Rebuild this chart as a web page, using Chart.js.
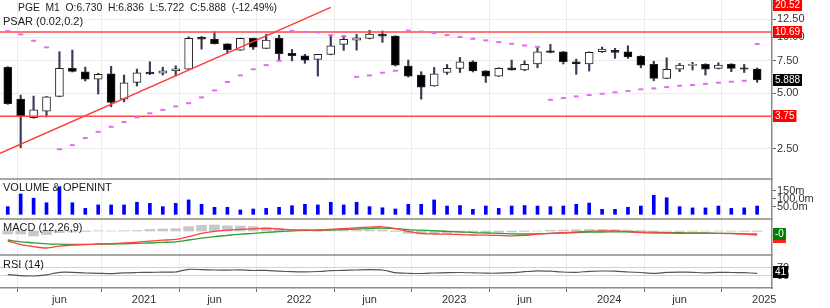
<!DOCTYPE html>
<html>
<head>
<meta charset="utf-8">
<script src="https://cdn.jsdelivr.net/npm/chart.js@4.4.1/dist/chart.umd.min.js"></script>
<style>
  html, body { margin: 0; padding: 0; background: #fff; }
</style>
</head>
<body>
<canvas id="chart" width="830" height="308"></canvas>
<script>
// monthly bars, Feb 2020 .. Dec 2024
const months = [
  '2020-02','2020-03','2020-04','2020-05','2020-06','2020-07','2020-08','2020-09','2020-10','2020-11','2020-12',
  '2021-01','2021-02','2021-03','2021-04','2021-05','2021-06','2021-07','2021-08','2021-09','2021-10','2021-11','2021-12',
  '2022-01','2022-02','2022-03','2022-04','2022-05','2022-06','2022-07','2022-08','2022-09','2022-10','2022-11','2022-12',
  '2023-01','2023-02','2023-03','2023-04','2023-05','2023-06','2023-07','2023-08','2023-09','2023-10','2023-11','2023-12',
  '2024-01','2024-02','2024-03','2024-04','2024-05','2024-06','2024-07','2024-08','2024-09','2024-10','2024-11','2024-12'
];

const opens = [6.88,4.64,3.68,4.00,4.80,6.80,6.52,5.95,6.36,4.64,5.71,
  6.49,6.41,6.59,6.74,9.99,9.78,9.23,8.53,9.87,8.72,9.87,8.19,
  7.95,7.60,8.09,9.16,9.66,9.87,10.41,10.16,7.00,6.26,5.46,6.46,
  6.80,7.38,6.59,6.18,6.85,6.66,7.18,8.46,8.36,7.38,7.18,8.36,
  8.50,8.36,7.91,7.14,6.00,6.74,7.05,7.14,6.80,7.18,6.85,6.730];
const highs = [6.95,4.88,4.82,4.80,8.36,8.53,6.90,6.40,6.97,6.26,6.74,
  7.38,6.90,7.02,10.07,10.10,10.71,9.25,9.90,9.90,10.37,10.27,8.60,
  8.09,8.10,10.16,10.16,10.37,10.90,10.82,10.20,7.54,6.52,6.88,7.14,
  7.79,7.47,6.60,6.85,7.54,7.47,8.89,9.16,8.40,7.63,8.35,8.86,
  8.72,9.00,7.95,7.43,7.75,7.24,7.33,7.20,7.29,7.20,7.14,6.836];
const lows = [4.35,2.54,3.66,3.72,4.78,6.50,5.81,4.94,4.22,4.49,5.46,
  6.30,6.26,6.20,6.70,8.64,9.20,8.19,8.50,8.60,8.70,7.54,7.47,
  7.24,6.18,8.05,8.50,8.53,9.80,9.39,7.00,6.10,4.64,5.45,6.31,
  6.46,6.50,5.71,6.15,6.65,6.60,6.85,8.25,7.18,6.31,6.58,8.30,
  7.70,7.70,6.85,5.83,5.98,6.52,6.66,6.26,6.75,6.52,6.46,5.722];
const closes = [4.38,3.77,4.06,4.78,6.80,6.55,5.95,6.31,4.46,5.69,6.44,
  6.34,6.59,6.77,9.87,9.78,9.23,8.57,9.87,8.86,9.66,8.15,7.95,
  7.54,8.09,9.00,9.75,9.94,10.41,10.16,7.08,6.18,5.39,6.36,6.80,
  7.38,6.58,6.18,6.80,6.68,7.14,8.36,8.30,7.38,7.18,8.30,8.64,
  8.30,7.85,7.08,6.00,6.71,7.08,7.14,6.74,7.08,6.80,6.73,5.888];

const psar = [10.81,10.37,9.58,8.83,
  2.49,2.62,2.86,3.09,3.29,3.49,3.70,3.89,4.06,4.24,4.41,4.74,5.17,5.74,6.23,6.72,7.08,7.47,
  10.81,10.71,10.63,10.28,10.16,
  6.12,6.23,6.44,6.60,
  10.87,10.74,10.54,10.28,10.03,9.82,9.63,9.42,9.23,9.04,8.89,
  4.60,4.70,4.80,4.88,4.96,5.05,5.13,5.24,5.30,5.39,5.48,5.53,5.61,5.69,5.76,5.83,
  9.20];

// volume in millions
const volume = [49,130,103,74,177,74,38,60,60,60,77,70,49,70,92,64,45,45,28,34,
  38,45,55,64,60,77,60,77,49,42,34,64,64,92,53,56,32,53,38,53,
  56,53,49,53,64,72,32,32,45,53,122,106,49,41,41,53,38,41,53];

const macdLine = [-0.25,-0.34,-0.39,-0.425,-0.38,-0.35,-0.34,-0.325,-0.315,-0.30,
  -0.28,-0.255,-0.23,-0.21,-0.14,-0.06,-0.01,0.02,0.04,0.055,
  0.065,0.05,0.03,0.025,0.025,0.04,0.06,0.08,0.095,0.105,
  0.06,-0.01,-0.06,-0.075,-0.08,-0.09,-0.10,-0.105,-0.11,-0.12,
  -0.11,-0.08,-0.06,-0.04,-0.025,-0.01,0,0.005,-0.015,-0.04,
  -0.05,-0.05,-0.06,-0.06,-0.06,-0.06,-0.065,-0.08,-0.10];
const signalLine = [-0.225,-0.27,-0.295,-0.32,-0.33,-0.335,-0.335,-0.33,-0.325,-0.32,
  -0.31,-0.30,-0.285,-0.27,-0.225,-0.18,-0.14,-0.11,-0.08,-0.06,
  -0.035,-0.015,0.005,0.015,0.02,0.025,0.035,0.05,0.06,0.07,
  0.06,0.035,0.02,0.01,-0.01,-0.02,-0.04,-0.05,-0.06,-0.07,
  -0.075,-0.07,-0.06,-0.05,-0.04,-0.03,-0.025,-0.02,-0.02,-0.03,
  -0.03,-0.04,-0.04,-0.05,-0.05,-0.06,-0.06,-0.07,-0.075];
const macdHist = [-0.075,-0.075,-0.125,-0.09,-0.04,-0.025,-0.012,0.005,0,0.008,
  0.012,0.04,0.05,0.058,0.11,0.14,0.15,0.13,0.125,0.11,
  0.09,0.06,0.025,0.008,-0.008,0,0.008,0.012,0.025,0.025,
  -0.012,-0.06,-0.075,-0.068,-0.06,-0.05,-0.042,-0.038,-0.032,-0.025,
  -0.012,0,0.018,0.025,0.032,0.038,0.038,0.032,0.025,0.012,
  0,-0.008,-0.008,-0.005,0,0,-0.005,-0.008,-0.012];

const rsi = [34.5,29.5,27.5,33.5,45.5,46,42.5,41,39,43.5,
  45,46,46.5,47.5,61,59.5,57.5,56.5,58.5,55,
  56,51.5,49,48.5,50,54,56,57.5,59,57.5,
  44,41,40,42.5,44,45,43.5,41.5,41.5,44,
  49,53.5,51.5,47.5,46,51,52.5,51.5,47.5,45,
  41,45.5,46.5,46,43.5,46,45,44,41];

// drawn lines on the price panel
const levels = [10.69, 3.75];
const offLevel = 20.52;              // level above the visible range, shown as a box only
const trendLine = [[-0.6, 2.37], [25, 14.5]];

// axis ticks
const xTickPos = [4, 10.55, 16, 22.55, 28, 34.55, 40, 46.55, 52, 58.55];
const xTickLabels = ['jun', '2021', 'jun', '2022', 'jun', '2023', 'jun', '2024', 'jun', '2025'];
const priceTicks = [2.5, 5, 7.5, 10, 12.5];
const volTicks = [50, 100, 150];
const volTickLabels = ['50.0m', '100.0m', '150m'];
const rsiTicks = [30, 70];

const header = 'PGE  M1  O:6.730  H:6.836  L:5.722  C:5.888  (-12.49%)';

const xMin = -0.6, xMax = 59.15;
const FONT = '"Liberation Sans", Arial, sans-serif';
Chart.defaults.font.family = FONT;
Chart.defaults.font.size = 11;
Chart.defaults.color = '#333';

function valueBox(ctx, x, y, text, bg) {
    ctx.font = '10px ' + FONT;
    const w = ctx.measureText(text).width + 4;
    ctx.fillStyle = bg;
    ctx.fillRect(x, Math.round(y) - 6, w, 12);
    ctx.fillStyle = '#fff';
    ctx.textAlign = 'left';
    ctx.textBaseline = 'middle';
    ctx.fillText(text, x + 2, Math.round(y) + 0.5);
}

// panel separators, panel titles and value boxes on the right axis
const panelDecor = {
    id: 'panelDecor',
    afterDraw(chart) {
        const ctx = chart.ctx;
        const area = chart.chartArea;
        const s = chart.scales;
        ctx.save();

        ctx.strokeStyle = '#8a8a8a';
        ctx.lineWidth = 1.5;
        [s.yVol.top, s.yMacd.top, s.yRsi.top].forEach(y => {
            ctx.beginPath();
            ctx.moveTo(area.left, y);
            ctx.lineTo(area.right, y);
            ctx.stroke();
        });

        ctx.fillStyle = '#1a1a1a';
        ctx.textAlign = 'left';
        ctx.textBaseline = 'middle';
        // header squeezed to the width it has in the original
        ctx.font = '10.5px ' + FONT;
        const hw = ctx.measureText(header).width;
        ctx.save();
        ctx.translate(18, 8);
        ctx.scale(Math.min(1, 259 / hw), 1);
        ctx.fillText(header, 0, 0);
        ctx.restore();
        ctx.font = '11px ' + FONT;
        ctx.fillText('PSAR (0.02,0.2)', 3, 22);
        ctx.fillText('VOLUME & OPENINT', 3, s.yVol.top + 9);
        ctx.fillText('MACD (12,26,9)', 3, s.yMacd.top + 9);
        ctx.fillText('RSI (14)', 3, s.yRsi.top + 10);

        const bx = area.right + 1;
        const last = months.length - 1;
        valueBox(ctx, bx, Math.max(s.y.getPixelForValue(offLevel), s.y.top + 5), offLevel.toFixed(2), '#ff0000');
        levels.forEach(v => valueBox(ctx, bx, s.y.getPixelForValue(v), v.toFixed(2), '#ff0000'));
        valueBox(ctx, bx, s.y.getPixelForValue(closes[last]), closes[last].toFixed(3), '#000000');
        valueBox(ctx, bx, s.yMacd.getPixelForValue(macdLine[last]) + 2, '-0', '#ff2020');
        valueBox(ctx, bx, s.yMacd.getPixelForValue(signalLine[last]), '-0', '#008000');
        valueBox(ctx, bx, s.yRsi.getPixelForValue(rsi[last]) - 1, String(rsi[last]), '#000000');

        ctx.restore();
    }
};

const rightAxis = {
    position: 'right',
    stack: 'panels',
    bounds: 'data',
    border: { color: '#8a8a8a', width: 1.5 },
    afterFit: s => { s.width = 58; s.paddingTop = 0; s.paddingBottom = 0; }
};

new Chart(document.getElementById('chart').getContext('2d'), {
    type: 'line',
    data: {
        datasets: [
            {
                type: 'line', label: 'PSAR', yAxisID: 'y', order: 0,
                data: psar.map((v, i) => ({ x: i, y: v })),
                showLine: false, pointStyle: 'line', pointRadius: 2.5,
                pointBorderWidth: 2, pointBorderColor: '#e46cf4', pointBackgroundColor: '#e46cf4'
            },
            {
                type: 'line', label: 'trend', yAxisID: 'y', order: 1,
                data: trendLine.map(p => ({ x: p[0], y: p[1] })),
                borderColor: '#ff3c3c', borderWidth: 1.5, pointRadius: 0
            },
            ...levels.map(v => ({
                type: 'line', label: 'level ' + v, yAxisID: 'y', order: 1,
                data: [{ x: xMin, y: v }, { x: xMax, y: v }],
                borderColor: '#ff4848', borderWidth: 1.5, pointRadius: 0
            })),
            {
                type: 'bar', label: 'wicks', yAxisID: 'y', order: 9, grouped: false,
                data: months.map((m, i) => ({ x: i, y: [lows[i], highs[i]] })),
                barThickness: 1.5, backgroundColor: '#3a3a5c'
            },
            {
                type: 'bar', label: 'bodies', yAxisID: 'y', order: 8, grouped: false,
                data: months.map((m, i) => ({ x: i, y: [opens[i], closes[i]] })),
                barThickness: 8,
                backgroundColor: closes.map((c, i) => c < opens[i] ? '#000000' : '#ffffff'),
                borderColor: '#222', borderWidth: 1, borderSkipped: false
            },
            {
                type: 'bar', label: 'volume', yAxisID: 'yVol', order: 5, grouped: false,
                data: volume.map((v, i) => ({ x: i, y: v })),
                barThickness: 3, backgroundColor: '#0000ff'
            },
            {
                type: 'bar', label: 'hist', yAxisID: 'yMacd', order: 10, grouped: false,
                data: macdHist.map((v, i) => ({ x: i, y: v })),
                barThickness: 10, backgroundColor: '#c8c8c8'
            },
            {
                type: 'line', label: 'MACD', yAxisID: 'yMacd', order: 2,
                data: macdLine.map((v, i) => ({ x: i, y: v })),
                borderColor: '#ff4040', borderWidth: 1.3, pointRadius: 0, tension: 0.3
            },
            {
                type: 'line', label: 'signal', yAxisID: 'yMacd', order: 3,
                data: signalLine.map((v, i) => ({ x: i, y: v })),
                borderColor: '#2ea02e', borderWidth: 1.3, pointRadius: 0, tension: 0.3
            },
            {
                type: 'line', label: 'RSI', yAxisID: 'yRsi', order: 2,
                data: rsi.map((v, i) => ({ x: i, y: v })),
                borderColor: '#555', borderWidth: 1.2, pointRadius: 0, tension: 0.2
            }
        ]
    },
    options: {
        responsive: false,
        animation: false,
        devicePixelRatio: 1,
        layout: { padding: 0, autoPadding: false },
        plugins: { legend: { display: false }, tooltip: { enabled: false } },
        scales: {
            x: {
                type: 'linear', position: 'bottom', min: xMin, max: xMax, bounds: 'data', offset: false,
                grid: { color: '#ececec', tickColor: '#666', tickLength: 4 },
                border: { color: '#8a8a8a', width: 1.5 },
                ticks: {
                    autoSkip: false, maxRotation: 0, padding: 1, color: '#333',
                    callback: (v, i) => xTickLabels[i]
                },
                afterBuildTicks: s => { s.ticks = xTickPos.map(v => ({ value: v })); },
                afterFit: s => { s.height = 20; s.paddingLeft = 0; s.paddingRight = 0; }
            },
            y: {
                ...rightAxis, type: 'logarithmic', stackWeight: 179, min: 1.72, max: 15.9,
                grid: { color: '#ececec', tickColor: '#666', tickLength: 4 },
                ticks: { autoSkip: false, padding: 1, color: '#333', callback: v => Number(v).toFixed(2) },
                afterBuildTicks: s => { s.ticks = priceTicks.map(v => ({ value: v })); }
            },
            yVol: {
                ...rightAxis, type: 'linear', stackWeight: 40, min: -30, max: 226,
                grid: { drawOnChartArea: false, tickColor: '#666', tickLength: 4 },
                ticks: { autoSkip: false, padding: 1, color: '#333', callback: (v, i) => volTickLabels[i] },
                afterBuildTicks: s => { s.ticks = volTicks.map(v => ({ value: v })); }
            },
            yMacd: {
                ...rightAxis, type: 'linear', stackWeight: 36, min: -0.6, max: 0.3,
                grid: { drawOnChartArea: false, drawTicks: false },
                ticks: { display: false }
            },
            yRsi: {
                ...rightAxis, type: 'linear', stackWeight: 33, min: -32.5, max: 132.5,
                grid: { color: '#d2d2d2', tickColor: '#666', tickLength: 4 },
                ticks: { autoSkip: false, padding: 1, color: '#333' },
                afterBuildTicks: s => { s.ticks = rsiTicks.map(v => ({ value: v })); }
            }
        }
    },
    plugins: [panelDecor]
});
</script>
</body>
</html>
